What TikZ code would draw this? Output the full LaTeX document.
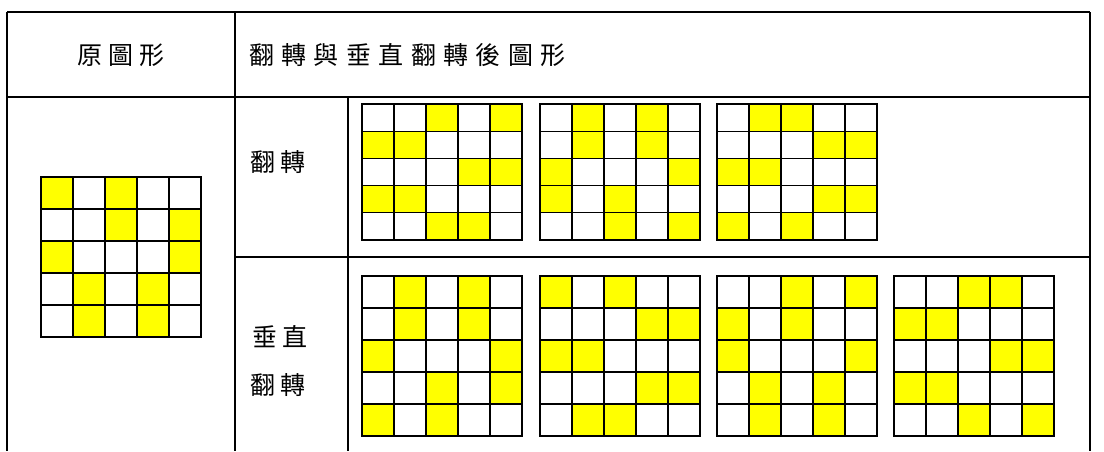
\documentclass[tikz,border=0pt]{standalone}
\usepackage{fontspec}
\newfontfamily\cjk{Noto Sans CJK TC}
\definecolor{yel}{HTML}{FFFF00}
\newcommand\cjkgap{\hspace{6pt}}
\newcommand\cjkgapw{\hspace{7.4pt}}
\newcommand\cellgrid[4]{% x, y, cell height, yellow cells
  \foreach \c/\r in {#4}{\fill[yel] ({#1+(\c-1)*32},{#2+(\r-1)*#3}) rectangle ++(32,#3);}
  \foreach \i in {0,...,5}{%
    \draw[gridline] ({#1+\i*32},#2) -- ++(0,{5*#3});
    \draw[gridline] (#1,{#2+\i*#3}) -- ++(160,0);}%
}
\begin{document}
\begin{tikzpicture}[x=1pt,y=-1pt,
  tableline/.style={line width=1.6pt,black},
  gridline/.style={line width=1.3pt,black,line cap=rect},
  label/.style={font=\cjk\fontsize{25}{29}\selectfont,inner sep=0pt}]
\useasboundingbox (0,0) rectangle (1104,451);
\fill[white] (0,0) rectangle (1104,451);
% table frame
\coordinate (tl) at (7,12);
\coordinate (tr) at (1090,12);
\coordinate (bl) at (7,451);
\coordinate (br) at (1090,451);
\coordinate (c1t) at (235,12);
\coordinate (c1b) at (235,451);
\coordinate (c2t) at (348,97);
\coordinate (c2b) at (348,451);
\coordinate (h1l) at (7,97);
\coordinate (h1r) at (1090,97);
\coordinate (h2l) at (235,257);
\coordinate (h2r) at (1090,257);
\draw[tableline] (tl) -- (tr);
\draw[tableline] (tl) -- (bl);
\draw[tableline] (tr) -- (br);
\draw[tableline] (c1t) -- (c1b);
\draw[tableline] (c2t) -- (c2b);
\draw[tableline] (h1l) -- (h1r);
\draw[tableline] (h2l) -- (h2r);
% texts
\node[label] (h1) at (121,55) {原\cjkgap 圖\cjkgap 形};
\node[label,anchor=west] (h2) at (249,55) {翻\cjkgapw 轉\cjkgapw 與\cjkgapw 垂\cjkgapw 直\cjkgapw 翻\cjkgapw 轉\cjkgapw 後\cjkgapw 圖\cjkgapw 形};
\node[label,anchor=west] (fz) at (250,162) {翻\hspace{5pt}轉};
\node[label,anchor=west] (cz) at (252,337) {垂\hspace{5pt}直};
\node[label,anchor=west] (cz2) at (250,385) {翻\hspace{5pt}轉};
% original
\cellgrid{41}{177}{32}{1/1,3/1,3/2,5/2,1/3,5/3,2/4,4/4,2/5,4/5}
% flip row
\cellgrid{362}{104}{27.2}{3/1,5/1,1/2,2/2,4/3,5/3,1/4,2/4,3/5,4/5}
\cellgrid{540}{104}{27.2}{2/1,4/1,2/2,4/2,1/3,5/3,1/4,3/4,3/5,5/5}
\cellgrid{717}{104}{27.2}{2/1,3/1,4/2,5/2,1/3,2/3,4/4,5/4,1/5,3/5}
% vertical flip row
\cellgrid{362}{276}{32}{2/1,4/1,2/2,4/2,1/3,5/3,3/4,5/4,1/5,3/5}
\cellgrid{540}{276}{32}{1/1,3/1,4/2,5/2,1/3,2/3,4/4,5/4,2/5,3/5}
\cellgrid{717}{276}{32}{3/1,5/1,1/2,3/2,1/3,5/3,2/4,4/4,2/5,4/5}
\cellgrid{894}{276}{32}{3/1,4/1,1/2,2/2,4/3,5/3,1/4,2/4,3/5,5/5}
\end{tikzpicture}
\end{document}
